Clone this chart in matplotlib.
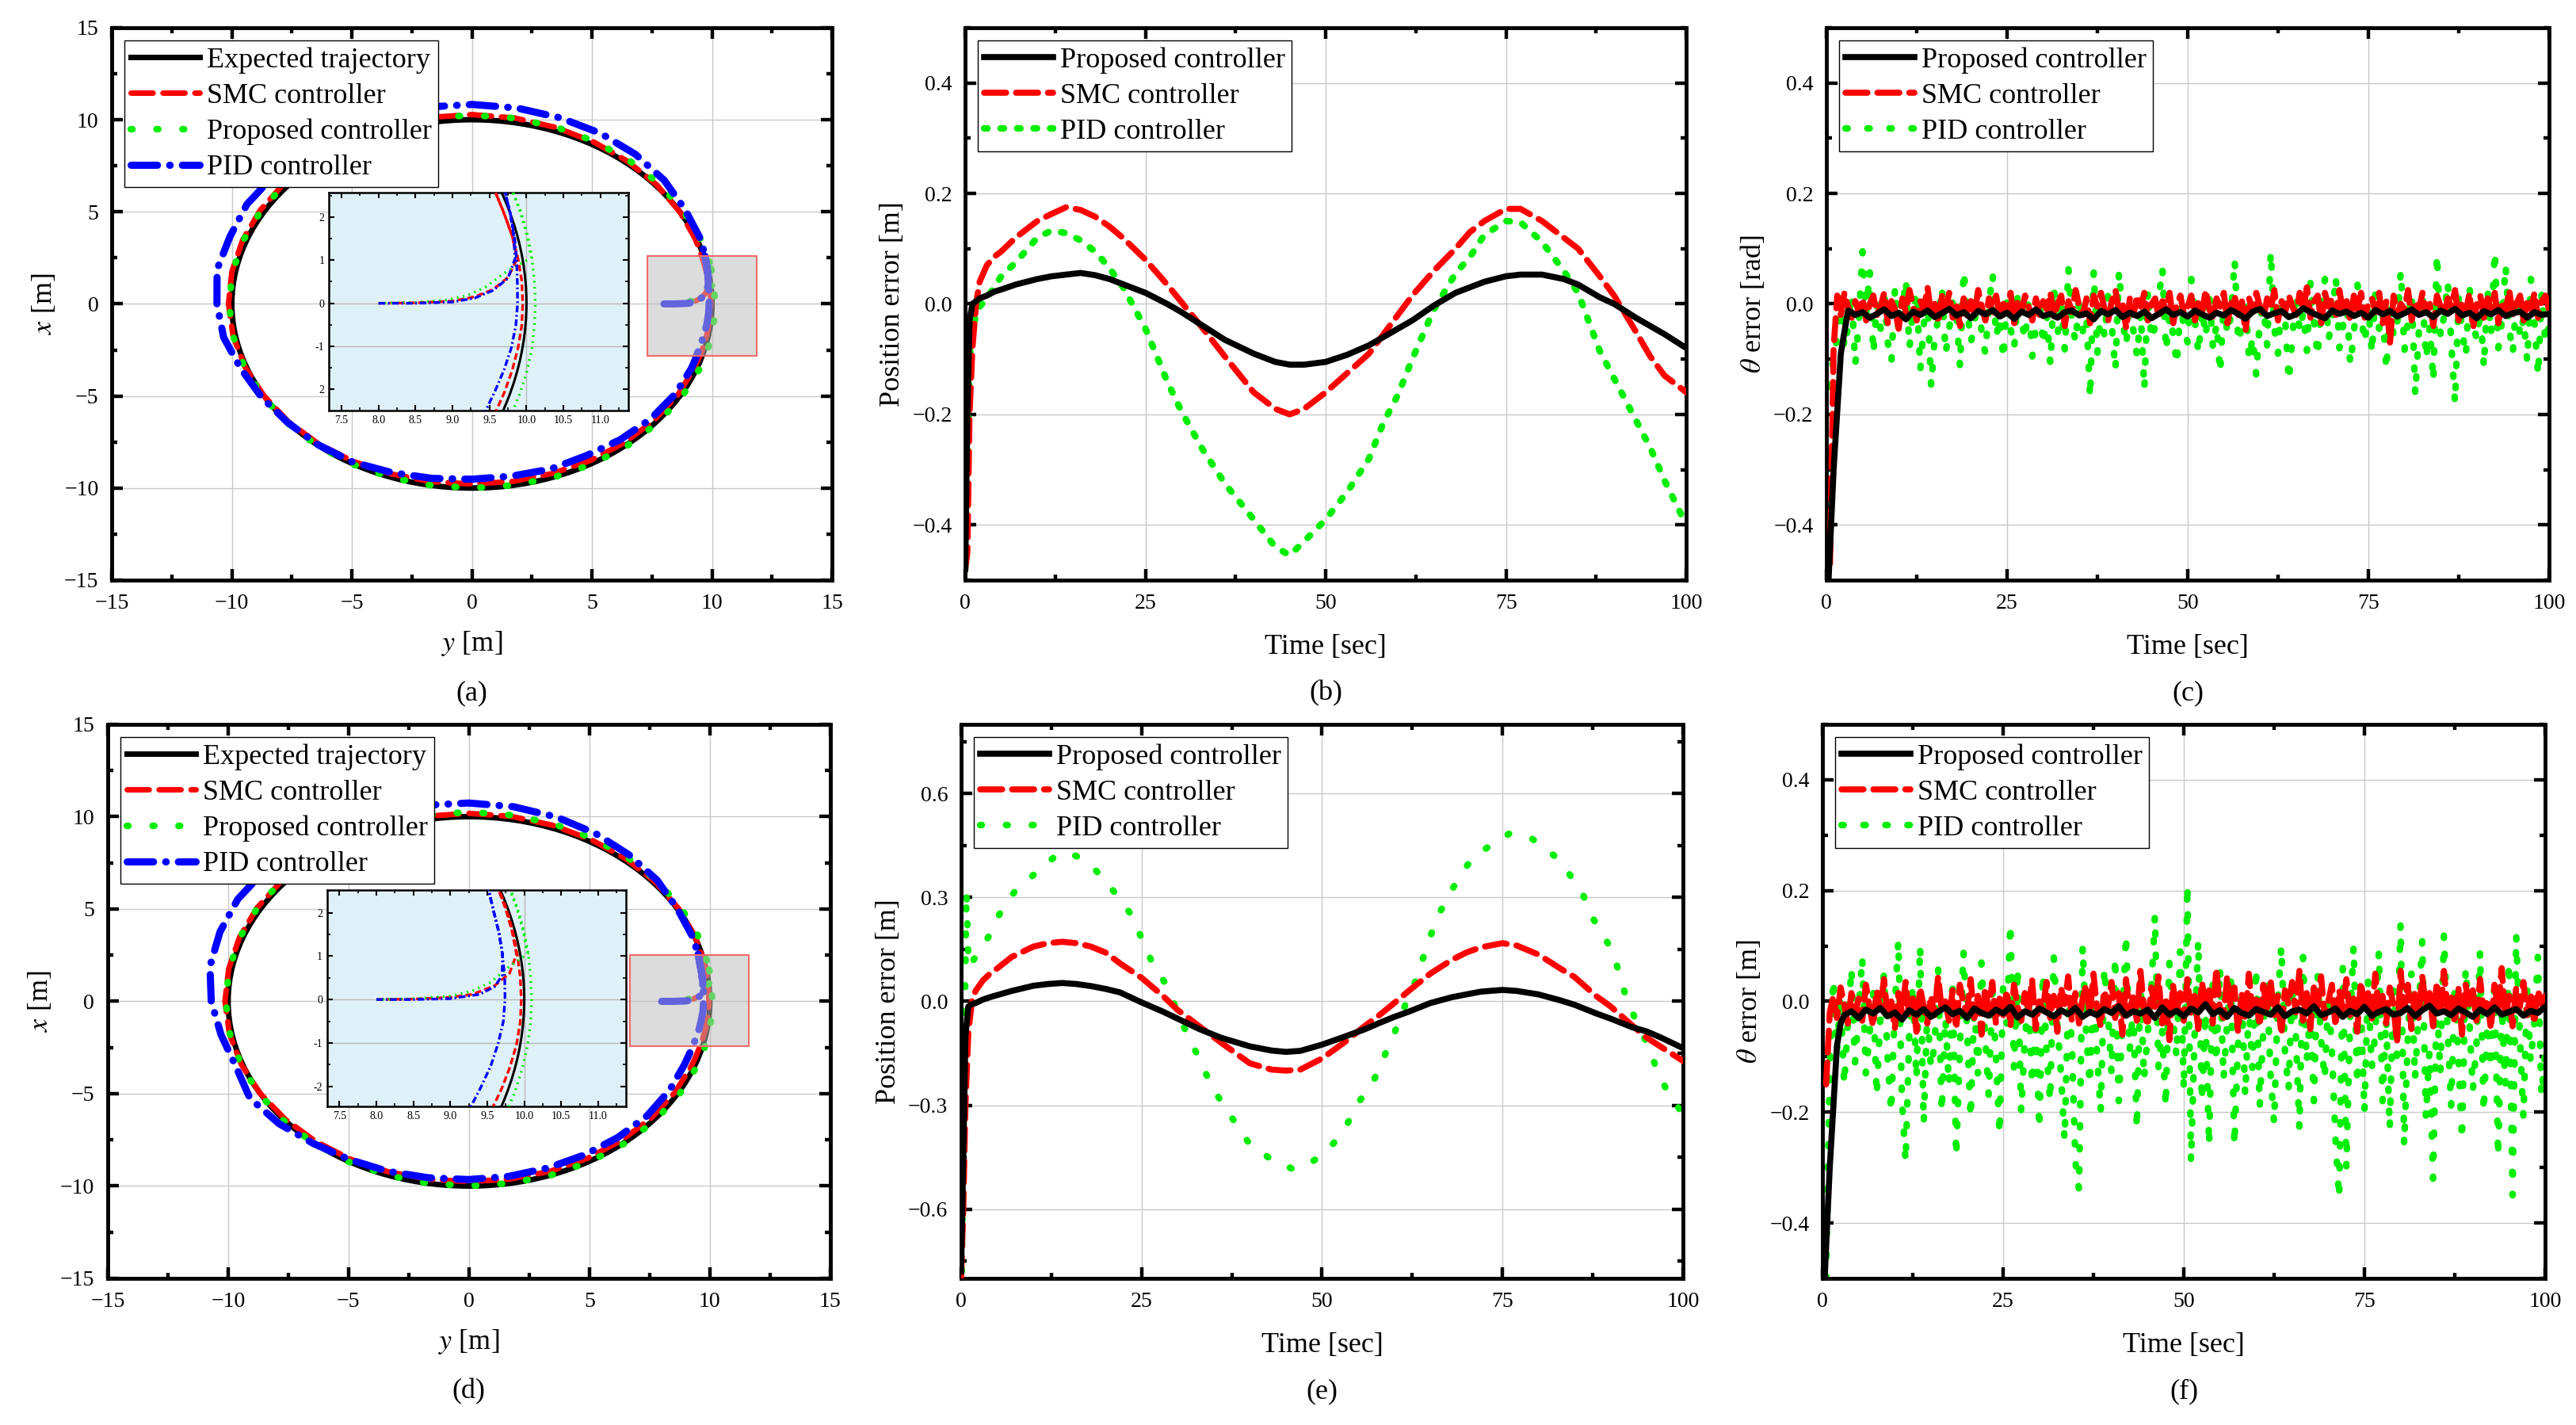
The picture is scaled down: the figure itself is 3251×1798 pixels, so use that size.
import numpy as np
import matplotlib
matplotlib.use('Agg')
import matplotlib.pyplot as plt
from matplotlib.ticker import MultipleLocator, FixedLocator, FuncFormatter
from matplotlib.patches import Rectangle, Circle
from matplotlib.lines import Line2D

plt.rcParams['font.family'] = ['Liberation Serif', 'DejaVu Serif']
plt.rcParams['mathtext.fontset'] = 'stix'
plt.rcParams['lines.scale_dashes'] = False
plt.rcParams['axes.unicode_minus'] = True

# ------------------------------------------------------------------ data
# trajectory panels (a) and (d): radius of each controller's path at angle theta
EXPECTED_RADIUS = 10.0
traj_theta = [6, 9, 12, 15, 18, 21, 30, 40, 50, 60, 70, 80, 90, 100, 110, 120, 130, 140, 150,
              160, 170, 180, 190, 200, 210, 220, 230, 240, 250, 260, 270, 280, 290, 300, 310,
              320, 330, 339, 342, 345, 348, 351, 354, 357, 360, 363, 366, 369, 372, 375]

a_smc_r = [9.93, 9.93, 9.92, 9.92, 9.93, 9.95,
           10.0, 10.05, 10.1, 10.15, 10.2, 10.25, 10.28, 10.28, 10.27, 10.25, 10.22, 10.2, 10.18,
           10.16, 10.15, 10.14, 10.1, 10.05, 10.0, 9.97, 9.93, 9.88, 9.83, 9.8, 9.78, 9.79, 9.8,
           9.83, 9.86, 9.88, 9.9,
           9.9, 9.9, 9.91, 9.92, 9.93, 9.94, 9.95, 9.95, 9.95, 9.94, 9.93, 9.92, 9.92]
a_prop_r = [10.12, 10.13, 10.14, 10.15, 10.15, 10.15,
            10.15, 10.17, 10.18, 10.2, 10.22, 10.24, 10.25, 10.24, 10.22, 10.2, 10.18, 10.16, 10.14,
            10.13, 10.12, 10.12, 10.1, 10.08, 10.06, 10.05, 10.04, 10.03, 10.02, 10.0, 10.0, 10.0,
            10.02, 10.04, 10.06, 10.08, 10.1,
            10.11, 10.12, 10.13, 10.13, 10.13, 10.13, 10.12, 10.12, 10.12, 10.13, 10.14, 10.15, 10.15]
a_pid_r = [9.9, 9.95, 10.0, 10.05, 10.1, 10.15,
           10.25, 10.45, 10.6, 10.7, 10.75, 10.8, 10.83, 10.85, 10.88, 10.82, 10.85, 10.8, 10.82,
           10.72, 10.78, 10.62, 10.5, 10.25, 10.12, 10.02, 9.98, 9.92, 9.75, 9.62, 9.52, 9.5, 9.55,
           9.52, 9.62, 9.72, 9.78,
           9.79, 9.78, 9.77, 9.79, 9.82, 9.85, 9.87, 9.88, 9.89, 9.92, 9.96, 10.0, 10.05]
a_smc_start_y = [8.0, 8.5, 9.0, 9.3, 9.55, 9.75]
a_smc_start_x = [0.0, 0.01, 0.05, 0.15, 0.32, 0.6]
a_prop_start_y = [8.0, 8.5, 8.9, 9.2, 9.45, 9.7]
a_prop_start_x = [0.0, 0.02, 0.07, 0.18, 0.38, 0.7]
a_pid_start_y = [8.0, 8.5, 9.0, 9.3, 9.55, 9.75]
a_pid_start_x = [0.0, 0.0, 0.03, 0.12, 0.3, 0.58]

d_smc_r = [9.95, 9.96, 9.97, 9.98, 10.0, 10.02,
           10.05, 10.08, 10.1, 10.12, 10.15, 10.17, 10.18, 10.18, 10.18, 10.17, 10.16, 10.15, 10.15,
           10.14, 10.13, 10.13, 10.1, 10.05, 10.0, 9.95, 9.9, 9.86, 9.82, 9.78, 9.76, 9.77, 9.8,
           9.82, 9.84, 9.86, 9.87,
           9.88, 9.88, 9.89, 9.91, 9.93, 9.95, 9.96, 9.96, 9.96, 9.96, 9.97, 9.98, 9.99]
d_prop_r = [10.1, 10.11, 10.12, 10.13, 10.14, 10.15,
            10.16, 10.18, 10.2, 10.21, 10.23, 10.24, 10.25, 10.24, 10.22, 10.2, 10.18, 10.16, 10.14,
            10.12, 10.11, 10.1, 10.08, 10.07, 10.05, 10.04, 10.03, 10.02, 10.01, 10.0, 10.0, 10.0,
            10.01, 10.03, 10.05, 10.07, 10.08,
            10.09, 10.1, 10.1, 10.1, 10.1, 10.1, 10.1, 10.1, 10.1, 10.11, 10.12, 10.13, 10.14]
d_pid_r = [9.76, 9.78, 9.8, 9.85, 9.88, 9.92,
           10.0, 10.2, 10.35, 10.5, 10.62, 10.7, 10.74, 10.78, 10.82, 10.9, 10.98, 11.05, 11.08,
           11.0, 10.92, 10.7, 10.45, 10.3, 10.5, 10.3, 10.05, 9.9, 9.8, 9.7, 9.65, 9.62, 9.6,
           9.6, 9.62, 9.65, 9.62,
           9.58, 9.58, 9.6, 9.63, 9.67, 9.7, 9.73, 9.74, 9.75, 9.76, 9.78, 9.8, 9.85]
d_smc_start_y = [8.0, 8.5, 9.0, 9.3, 9.6, 9.8]
d_smc_start_x = [0.0, 0.01, 0.05, 0.12, 0.32, 0.6]
d_prop_start_y = [8.0, 8.5, 9.0, 9.3, 9.55, 9.75]
d_prop_start_x = [0.0, 0.02, 0.08, 0.2, 0.4, 0.7]
d_pid_start_y = [8.0, 8.5, 9.0, 9.4, 9.6, 9.7]
d_pid_start_x = [0.0, 0.0, 0.02, 0.12, 0.3, 0.55]

# zoom box (main axes) and inset ranges
a_box = (7.3, -2.83, 4.56, 5.44)
d_box = (6.67, -2.43, 4.94, 4.96)
inset_xlim = (7.33, 11.38)
a_inset_ylim = (-2.49, 2.56)
d_inset_ylim = (-2.47, 2.53)
inset_xticks = [7.5, 8.0, 8.5, 9.0, 9.5, 10.0, 10.5, 11.0]
inset_yticks = [-2, -1, 0, 1, 2]
a_inset_yticklabels = ['2', '-1', '0', '1', '2']
d_inset_yticklabels = ['-2', '-1', '0', '1', '2']

# position error panels (b) and (e)
t_pos = [0, 0.3, 0.6, 1, 1.5, 2, 3, 4, 5, 7, 10, 12, 14, 16, 18, 20, 22, 25, 28, 30, 33, 36, 40,
         43, 45, 47, 50, 53, 56, 58, 60, 62, 65, 68, 70, 72, 75, 77, 80, 83, 85, 88, 90, 93, 95,
         97, 100]
b_prop = [-0.48, -0.2, -0.03, 0.0, 0.005, 0.01, 0.015, 0.022, 0.026, 0.035, 0.045, 0.05, 0.053,
          0.056, 0.052, 0.045, 0.035, 0.02, 0.0, -0.015, -0.04, -0.065, -0.09, -0.105, -0.11,
          -0.11, -0.105, -0.092, -0.075, -0.06, -0.045, -0.03, -0.003, 0.02, 0.03, 0.04, 0.05,
          0.053, 0.053, 0.045, 0.035, 0.012, 0.0, -0.025, -0.04, -0.055, -0.08]
b_smc = [-0.48, -0.45, -0.2, -0.08, 0.0, 0.04, 0.07, 0.085, 0.095, 0.12, 0.15, 0.163, 0.175,
         0.17, 0.158, 0.14, 0.118, 0.08, 0.035, 0.003, -0.045, -0.095, -0.16, -0.19, -0.2, -0.19,
         -0.16, -0.125, -0.09, -0.055, -0.02, 0.015, 0.06, 0.1, 0.13, 0.15, 0.172, 0.172, 0.15,
         0.12, 0.1, 0.05, 0.015, -0.05, -0.095, -0.13, -0.16]
b_pid = [-0.48, -0.3, -0.1, -0.045, -0.02, -0.005, 0.01, 0.03, 0.05, 0.075, 0.12, 0.133, 0.128,
         0.115, 0.095, 0.065, 0.028, -0.045, -0.14, -0.195, -0.265, -0.325, -0.39, -0.44, -0.455,
         -0.43, -0.39, -0.34, -0.28, -0.215, -0.165, -0.1, -0.01, 0.055, 0.085, 0.125, 0.15,
         0.148, 0.112, 0.06, 0.02, -0.085, -0.135, -0.21, -0.26, -0.32, -0.4]
e_prop = [-0.78, -0.45, -0.1, -0.015, -0.008, -0.005, 0.005, 0.012, 0.018, 0.03, 0.045, 0.05,
          0.053, 0.05, 0.044, 0.036, 0.026, -0.003, -0.03, -0.05, -0.08, -0.105, -0.13, -0.142,
          -0.146, -0.143, -0.125, -0.103, -0.08, -0.062, -0.045, -0.03, -0.005, 0.012, 0.02,
          0.028, 0.033, 0.03, 0.02, 0.003, -0.01, -0.035, -0.05, -0.075, -0.087, -0.105, -0.135]
e_smc = [-0.8, -0.6, -0.3, -0.09, 0.0, 0.03, 0.06, 0.08, 0.095, 0.128, 0.158, 0.168, 0.172, 0.168,
         0.158, 0.141, 0.11, 0.068, 0.015, -0.025, -0.072, -0.119, -0.179, -0.197, -0.2, -0.197,
         -0.165, -0.12, -0.07, -0.039, -0.005, 0.03, 0.08, 0.12, 0.141, 0.156, 0.168, 0.161,
         0.135, 0.095, 0.07, 0.015, -0.015, -0.07, -0.105, -0.132, -0.172]
t_e_pid = [0.1, 0.4, 0.74, 0.89, 1.03, 2.0, 3.84, 5.7, 7.54, 9.76, 11.6, 13.1, 14.9, 16.4, 17.9,
           19.8, 21.8, 23.65, 24.8, 26.3, 28.2, 29.9, 31.5, 33.0, 34.7, 36.5, 38.3, 39.9, 41.2,
           43.0, 44.6, 46.0, 48.0, 49.5, 51.6, 53.6, 55.3, 57.1, 58.2, 59.9, 61.5, 63.0, 64.4,
           65.9, 67.8, 69.5, 71.1, 73.2, 74.8, 75.9, 77.4, 78.7, 80.6, 82.2, 84.0, 85.9, 87.5,
           89.6, 90.7, 91.9, 93.4, 95.1, 96.8, 98.4, 99.8]
e_pid = [-0.78, -0.2, 0.32, 0.21, 0.1, 0.128, 0.188, 0.268, 0.32, 0.36, 0.394, 0.42, 0.43, 0.415,
         0.394, 0.354, 0.3, 0.248, 0.192, 0.12, 0.055, -0.025, -0.105, -0.165, -0.245, -0.305,
         -0.36, -0.41, -0.43, -0.457, -0.47, -0.485, -0.47, -0.452, -0.41, -0.35, -0.285, -0.232,
         -0.179, -0.099, -0.012, 0.061, 0.15, 0.24, 0.315, 0.375, 0.42, 0.448, 0.468, 0.484,
         0.481, 0.475, 0.448, 0.42, 0.375, 0.321, 0.241, 0.168, 0.115, 0.028, -0.052, -0.125,
         -0.219, -0.279, -0.319]

# heading error panels (c) and (f): values in 1/1000 rad
t_half = np.arange(0.5, 100.01, 0.5)            # sampling instants for SMC / PID
t_prop_theta = np.concatenate([[0.3, 1.0, 2.0, 2.5], np.arange(3, 101)])
c_prop = [-500, -300, -90, -50,
          -12, -20, -15, -25, -18, -10, -22, -16, -28, -14,
          -20, -12, -24, -17, -9, -21, -15, -26, -13, -19,
          -11, -23, -16, -27, -14, -20, -10, -22, -18, -25,
          -15, -12, -21, -17, -28, -13, -19, -11, -24, -16,
          -22, -14, -26, -18, -10, -20, -15, -23, -12, -19,
          -25, -16, -21, -11, -18, -27, -14, -9, -22, -17,
          -13, -24, -19, -8, -15, -21, -26, -12, -18, -14,
          -22, -16, -25, -11, -19, -13, -23, -17, -10, -20,
          -15, -24, -12, -18, -9, -21, -16, -26, -13, -19,
          -11, -22, -17, -14, -25, -15, -20, -18]
c_smc = [-470, -80, 15, -20, 20, -5, -25, 5, -15, 10,
         -30, 0, 15, -20, -5, 20, -35, 5, -10, -45,
         10, -15, 25, -5, -30, 5, -10, 30, -20, 0,
         -35, 15, -10, 20, -25, 0, -40, 10, -15, 5,
         -20, 25, -5, -30, 10, -15, 15, -25, 0, -10,
         20, -35, 5, -15, 15, -5, -30, 10, -20, 5,
         -10, 20, -25, 0, 15, -40, 5, -15, 25, -5,
         -20, 10, -35, 15, -5, 20, -10, -30, 5, 25,
         -15, 0, -45, 10, -20, 15, -5, 20, -30, 0,
         10, -25, 5, -10, 20, -35, 0, 15, -20, -5,
         15, -30, 5, -15, 25, -10, -25, 10, -5, 20,
         -35, 0, 15, -20, 5, -50, 10, -15, 20, -5,
         -25, 10, -10, 25, -30, 5, -15, 15, -5, -20,
         20, -10, 30, -25, 5, 15, -35, 20, -5, 10,
         -20, 25, -15, 5, -30, 15, -10, 20, -25, 0,
         10, -15, 20, -35, 5, -70, 15, -20, 0, -10,
         25, -30, 5, -10, 20, -15, 0, -40, 15, -5,
         -20, 10, -5, 25, -30, 5, -15, 20, -45, 0,
         15, -25, 10, -10, 20, -35, 5, -15, 25, -20,
         0, 15, -30, 10, -10, 20, -25, 5, 15, -10]
c_pid = [-150, -95, -60, 10, -80, -40, 15, -110, -30, 95,
         -20, 60, -90, 0, -45, 20, -70, -105, 30, -50,
         -15, 45, -80, -5, 20, -120, -35, 10, -150, -60,
         -25, 30, -90, -45, 5, -20, -115, 60, -10, -70,
         -35, 25, -55, -90, 0, 55, -60, -25, -100, 15,
         -45, -80, 20, -30, -65, 10, -95, -40, 5, -75,
         -20, -110, 30, -55, -5, -85, 65, -35, -70, 15,
         -50, -25, -170, 60, -90, -10, -60, 20, -40, -120,
         60, -30, -75, 5, -50, -95, -15, -155, 25, -65,
         -40, 10, 65, -85, -20, -55, -110, 0, -45, -70,
         45, -30, -90, -10, -60, 20, -80, -35, -125, 5,
         -55, -20, 80, -70, -40, 10, -100, -60, -130, -25,
         -5, -75, 95, -45, -90, 15, -30, -140, -60, 20,
         -50, -15, -85, 40, -35, -95, 5, 45, -65, -25,
         50, -80, -40, 10, -110, -55, 35, -20, -70, -5,
         -90, 25, -45, -15, -120, 5, -60, -35, 60, -85,
         -30, 20, -165, -50, 15, -100, -40, -140, 90, -60,
         -20, 40, -75, -180, 10, -50, -95, 30, -35, -65,
         -10, -115, 25, -55, 95, -80, -30, 70, -45, -90,
         15, -60, -25, -105, 45, -35, -130, 20, -70, -40]
f_prop = [-500, -300, -80, -40,
          -25, -18, -30, -15, -22, -12, -27, -20, -33, -16,
          -24, -14, -28, -19, -11, -23, -17, -30, -13, -21,
          -26, -15, -22, -10, -29, -18, -24, -13, -20, -27,
          -16, -23, -12, -28, -19, -25, -14, -21, -9, -26,
          -18, -22, -15, -30, -11, -24, -17, -27, -13, -20,
          -5, -23, -16, -28, -12, -21, -26, -14, -19, -24,
          -11, -27, -18, -15, -22, -9, -25, -20, -13, -28,
          -17, -23, -10, -26, -19, -14, -24, -21, -12, -27,
          -16, -8, -22, -18, -25, -13, -20, -28, -15, -23,
          -11, -24, -19, -14, -26, -17, -21, -10]
f_smc = [-150, -20, 10, -30, 25, -5, -40, 15, -20, 5,
         -35, 30, -10, -45, 20, -15, 40, -25, 0, -50,
         15, -20, 35, -30, 5, -55, 25, -10, -40, 10,
         -25, 45, -15, 0, -35, 20, -50, 30, -5, -20,
         40, -30, 10, -60, 25, -15, 35, -40, 5, -25,
         20, -45, 30, -10, -35, 15, -20, 40, -50, 0,
         -15, 35, -30, 10, -55, 25, -5, 45, -35, 15,
         -40, 5, 30, -25, 50, -15, -45, 20, -10, 35,
         -30, 15, -60, 40, -20, 10, -35, 55, -15, -45,
         25, -10, 45, -40, 5, -70, 30, -20, 15, -35,
         40, -25, 10, -50, 35, -5, 20, -40, 60, -15,
         -30, 45, -10, 25, -55, 15, -35, 50, -20, 5,
         -45, 30, -15, 40, -25, 10, -60, 20, -5, 35,
         -20, 55, -35, 15, -50, 25, -10, 45, -30, 0,
         30, -45, 20, -15, 40, -25, 5, -55, 35, -10,
         15, -35, 50, -20, 10, -40, 25, -5, -75, 55,
         -15, 30, -50, 20, -30, 45, -10, 15, -45, 35,
         -25, 55, -15, 10, -40, 25, -60, 30, -5, 20,
         -35, 40, -20, 5, -50, 30, -15, 60, -30, 10,
         -45, 25, -10, 35, -25, 15, -40, 20, -5, 10]
f_pid = [-500, -120, 40, -90, 10, -150, -40, 60, -110, -20,
         80, -130, -60, 20, -170, -30, 50, -100, -200, -10,
         110, -180, -290, -60, 30, -140, 100, -220, -20, -120,
         -80, 60, -200, -30, -150, 40, -280, -90, 90, -50,
         -210, 0, -130, 70, -60, -170, 20, -100, -240, 30,
         -40, 140, -120, 60, -200, -70, 10, -150, -30, -230,
         50, -90, -180, 80, -40, -130, -250, 0, -70, -290,
         -340, 100, -60, -150, 30, -100, -200, 60, -20, -130,
         80, -180, -40, 120, -90, -10, -230, 40, -140, -60,
         20, 155, -120, -50, -190, 70, -30, -100, 90, -160,
         210, -290, -60, 110, -180, -20, -260, 30, -110, 60,
         -140, -40, 50, -260, -80, 20, -170, -10, -120, 60,
         -190, -50, 40, -130, -220, 0, 100, -90, -160, 30,
         -60, -230, 80, -110, -20, -180, 50, -70, -140, 10,
         -90, -250, -355, 60, -300, -40, 100, -150, -10, -200,
         40, -120, -60, 90, -180, -30, -230, 20, -100, 140,
         -260, -70, 50, -140, -20, 110, -210, -90, -320, 10,
         -130, 120, -50, -190, 30, -100, -250, 60, -30, -160,
         -80, 90, -200, -40, -120, 40, -280, -10, -150, 70,
         -350, 120, -60, -210, 20, -110, -40, 80, -170, -90]

traj_labels = ['Expected trajectory', 'SMC controller', 'Proposed controller', 'PID controller']
err_labels = ['Proposed controller', 'SMC controller', 'PID controller']
panel_letters = ['(a)', '(b)', '(c)', '(d)', '(e)', '(f)']

# ------------------------------------------------------------------ styles
BLACK, RED, GREEN, BLUE = '#000000', '#ff0000', '#00ee00', '#0000ff'
DASH = (0, (20, 9))
DOT = (0, (1.5, 22))
DOT_DENSE = (0, (3, 12))
DOT_NOISE = (0, (2, 18))
DASHDOT = (0, (24, 11, 0.5, 11))
TICK_FS, LABEL_FS, LEG_FS = 20, 26, 26

W, H = 3251, 1798
fig = plt.figure(figsize=(W / 100, H / 100), dpi=100)
fig.patch.set_facecolor('white')

pos = {
    'a': [0.0434, 0.5929, 0.2796, 0.3877],
    'b': [0.3747, 0.5929, 0.2799, 0.3877],
    'c': [0.7090, 0.5929, 0.2805, 0.3877],
    'd': [0.0418, 0.1029, 0.2805, 0.3888],
    'e': [0.3731, 0.1029, 0.2802, 0.3888],
    'f': [0.7075, 0.1029, 0.2805, 0.3888],
}


def style(ax, xmaj, xmin, ymaj, ymin, yfmt=None):
    ax.xaxis.set_major_locator(FixedLocator(xmaj))
    ax.xaxis.set_minor_locator(MultipleLocator(xmin))
    ax.yaxis.set_major_locator(FixedLocator(ymaj))
    ax.yaxis.set_minor_locator(MultipleLocator(ymin))
    if yfmt:
        ax.yaxis.set_major_formatter(FuncFormatter(lambda v, p: (yfmt % v).replace('-', '\u2212')))
    ax.tick_params(which='both', direction='in', top=True, right=True)
    ax.tick_params(which='major', length=10, width=3.2, labelsize=TICK_FS, pad=12)
    ax.tick_params(which='minor', length=5, width=3.2)
    for s in ax.spines.values():
        s.set_linewidth(3.5)
    ax.grid(True, which='major', color='#c8c8c8', lw=1.0)
    ax.set_axisbelow(True)


def legend(ax, handles, labels):
    lg = ax.legend(handles, labels, loc='upper left', fontsize=LEG_FS, fancybox=False,
                   framealpha=1, edgecolor='k', borderpad=0.22, labelspacing=0.33,
                   handlelength=2.4, handletextpad=0.25, borderaxespad=0.45)
    lg.get_frame().set_linewidth(1.0)
    lg.set_zorder(20)
    return lg


def path(radii, sy, sx):
    th = np.deg2rad(traj_theta)
    r = np.asarray(radii)
    return (np.concatenate([sy, r * np.cos(th)]), np.concatenate([sx, r * np.sin(th)]))


def traj_panel(key, smc, prop, pid, starts, box, inset_rect, inset_ylim, inset_ylabels):
    ax = fig.add_axes(pos[key])
    ax.add_patch(Circle((0, 0), EXPECTED_RADIUS, fill=False, ec=BLACK, lw=5, zorder=2))
    ys, xs = path(smc, *starts[0])
    l_smc, = ax.plot(ys, xs, color=RED, lw=5, ls=DASH, dash_capstyle='round', zorder=3)
    yp, xp = path(prop, *starts[1])
    l_prop, = ax.plot(yp, xp, color=GREEN, lw=6, ls=DOT, dash_capstyle='round', zorder=4)
    yq, xq = path(pid, *starts[2])
    l_pid, = ax.plot(yq, xq, color=BLUE, lw=6.5, ls=DASHDOT, dash_capstyle='round', zorder=5)
    ax.add_patch(Rectangle(box[:2], box[2], box[3], facecolor=(0.74, 0.74, 0.74, 0.53),
                           edgecolor=(0.94, 0.42, 0.42), lw=1.5, zorder=10))
    ax.set_xlim(-15, 15)
    ax.set_ylim(-15, 15)
    style(ax, [-15, -10, -5, 0, 5, 10, 15], 2.5, [-15, -10, -5, 0, 5, 10, 15], 2.5)
    ax.set_xlabel(r'$y$ [m]', fontsize=LABEL_FS, labelpad=15)
    ax.set_ylabel(r'$x$ [m]', fontsize=LABEL_FS, labelpad=6)
    proxy = Line2D([], [], color=BLACK, lw=5)
    legend(ax, [proxy, l_smc, l_prop, l_pid], traj_labels)

    axi = fig.add_axes(inset_rect, zorder=5)
    axi.set_facecolor('#dff1f8')
    axi.axvline(10.0, color='#b8b8b8', lw=1.0, zorder=0)
    axi.axhline(0.0, color='#b8b8b8', lw=1.0, zorder=0)
    axi.axhline(-1.0, color='#b8b8b8', lw=1.0, zorder=0)
    axi.add_patch(Circle((0, 0), EXPECTED_RADIUS, fill=False, ec=BLACK, lw=2.2, zorder=2))
    axi.plot(ys, xs, color=RED, lw=2.4, ls=(0, (6, 3)), zorder=3)
    axi.plot(yp, xp, color=GREEN, lw=2.4, ls=(0, (1.5, 4)), zorder=4)
    axi.plot(yq, xq, color=BLUE, lw=2.4, ls=(0, (6, 2.5, 1.5, 2.5)), zorder=5)
    axi.set_xlim(*inset_xlim)
    axi.set_ylim(*inset_ylim)
    axi.set_xticks(inset_xticks)
    axi.set_xticklabels(['%.1f' % v for v in inset_xticks])
    axi.xaxis.set_minor_locator(MultipleLocator(0.25))
    axi.set_yticks(inset_yticks)
    axi.set_yticklabels(inset_ylabels)
    axi.yaxis.set_minor_locator(MultipleLocator(0.5))
    axi.tick_params(which='both', direction='in', top=True, right=True)
    axi.tick_params(which='major', length=5, width=1.5, labelsize=10, pad=4)
    axi.tick_params(which='minor', length=3, width=1.2)
    for s in axi.spines.values():
        s.set_linewidth(1.8)
    return ax


def err_panel(key, series, ylim, ymaj, ymin, yfmt, ylabel, dot):
    ax = fig.add_axes(pos[key])
    handles = {}
    # draw order: PID (back), SMC, Proposed (front)
    (tg, vg), (tr, vr), (tk, vk) = series[2], series[1], series[0]
    handles['pid'], = ax.plot(tg, vg, color=GREEN, lw=6, ls=dot, dash_capstyle='round', zorder=2)
    handles['smc'], = ax.plot(tr, vr, color=RED, lw=5.5, ls=DASH, dash_capstyle='round', zorder=3)
    handles['prop'], = ax.plot(tk, vk, color=BLACK, lw=5.5, zorder=4, solid_joinstyle='round')
    ax.set_xlim(0, 100)
    ax.set_ylim(*ylim)
    style(ax, [0, 25, 50, 75, 100], 12.5, ymaj, ymin, yfmt)
    ax.set_xlabel('Time [sec]', fontsize=LABEL_FS, labelpad=19)
    ax.set_ylabel(ylabel, fontsize=LABEL_FS, labelpad=6)
    legend(ax, [handles['prop'], handles['smc'], handles['pid']], err_labels)
    return ax


traj_panel('a', a_smc_r, a_prop_r, a_pid_r,
           [(a_smc_start_y, a_smc_start_x), (a_prop_start_y, a_prop_start_x),
            (a_pid_start_y, a_pid_start_x)],
           a_box, [0.1277, 0.7119, 0.1163, 0.1527], a_inset_ylim, a_inset_yticklabels)
traj_panel('d', d_smc_r, d_prop_r, d_pid_r,
           [(d_smc_start_y, d_smc_start_x), (d_prop_start_y, d_prop_start_x),
            (d_pid_start_y, d_pid_start_x)],
           d_box, [0.1269, 0.2234, 0.1162, 0.1522], d_inset_ylim, d_inset_yticklabels)

err_panel('b', [(t_pos, b_prop), (t_pos, b_smc), (t_pos, b_pid)], (-0.5, 0.5),
          [-0.4, -0.2, 0.0, 0.2, 0.4], 0.1, '%.1f', 'Position error [m]', DOT_DENSE)
err_panel('e', [(t_pos, e_prop), (t_pos, e_smc), (t_e_pid, e_pid)], (-0.8, 0.8),
          [-0.6, -0.3, 0.0, 0.3, 0.6], 0.15, '%.1f', 'Position error [m]', DOT)
err_panel('c', [(t_prop_theta, np.array(c_prop) / 1000), (t_half, np.array(c_smc) / 1000),
                (t_half, np.array(c_pid) / 1000)], (-0.5, 0.5),
          [-0.4, -0.2, 0.0, 0.2, 0.4], 0.1, '%.1f', r'$\theta$ error [rad]', DOT_NOISE)
err_panel('f', [(t_prop_theta, np.array(f_prop) / 1000), (t_half, np.array(f_smc) / 1000),
                (t_half, np.array(f_pid) / 1000)], (-0.5, 0.5),
          [-0.4, -0.2, 0.0, 0.2, 0.4], 0.1, '%.1f', r'$\theta$ error [m]', DOT_NOISE)

for letter, key in zip(panel_letters, ['a', 'b', 'c', 'd', 'e', 'f']):
    p = pos[key]
    ypos = 0.5133 if key in 'abc' else 0.0234
    fig.text(p[0] + p[2] / 2, ypos, letter, ha='center', va='center', fontsize=LABEL_FS)

fig.savefig('out.png', dpi=100, facecolor='white')
